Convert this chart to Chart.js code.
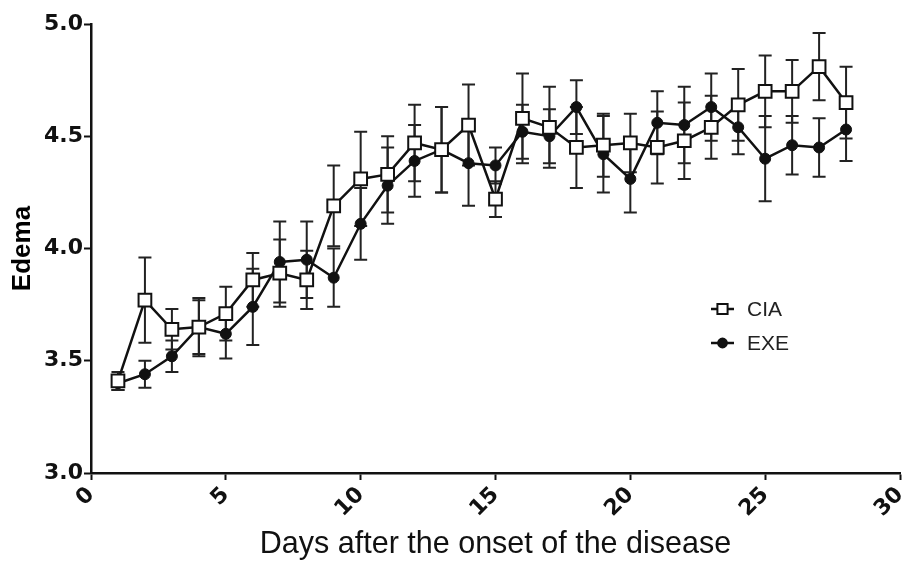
<!DOCTYPE html>
<html>
<head>
<meta charset="utf-8">
<script src="https://cdn.jsdelivr.net/npm/chart.js@4"></script>
<style>
  body { margin: 0; background: #fff; }
  canvas { display: block; }
</style>
</head>
<body>
<canvas id="edemaChart" width="904" height="563"></canvas>
<script>
// dados
const days = [1, 2, 3, 4, 5, 6, 7, 8, 9, 10, 11, 12, 13, 14, 15, 16, 17, 18, 19, 20, 21, 22, 23, 24, 25, 26, 27, 28];
const ciaMean = [3.41, 3.77, 3.64, 3.65, 3.71, 3.86, 3.89, 3.86, 4.19, 4.31, 4.33, 4.47, 4.44, 4.55, 4.22, 4.58, 4.54, 4.45, 4.46, 4.47, 4.45, 4.48, 4.54, 4.64, 4.70, 4.70, 4.81, 4.65];
const ciaErr = [0.04, 0.19, 0.09, 0.12, 0.12, 0.12, 0.15, 0.13, 0.18, 0.21, 0.17, 0.17, 0.19, 0.18, 0.08, 0.20, 0.18, 0.18, 0.14, 0.13, 0.16, 0.17, 0.14, 0.16, 0.16, 0.14, 0.15, 0.16];
const exeMean = [3.40, 3.44, 3.52, 3.65, 3.62, 3.74, 3.94, 3.95, 3.87, 4.11, 4.28, 4.39, 4.44, 4.38, 4.37, 4.52, 4.50, 4.63, 4.42, 4.31, 4.56, 4.55, 4.63, 4.54, 4.40, 4.46, 4.45, 4.53];
const exeErr = [0.03, 0.06, 0.07, 0.13, 0.11, 0.17, 0.18, 0.17, 0.13, 0.16, 0.17, 0.16, 0.19, 0.19, 0.08, 0.12, 0.12, 0.12, 0.17, 0.15, 0.14, 0.17, 0.15, 0.12, 0.19, 0.13, 0.13, 0.14];
const seriesLabels = ['CIA', 'EXE'];
const xTicks = [0, 5, 10, 15, 20, 25, 30];
const yTicks = [3.0, 3.5, 4.0, 4.5, 5.0];

const INK = '#111';
const tickFont = { family: "'DejaVu Sans', sans-serif", size: 22, weight: 'bold' };

// barras de erro desenhadas pelas escalas do próprio Chart.js
const errorBars = {
    id: 'errorBars',
    beforeDatasetsDraw(chart) {
        const { ctx, scales: { x, y } } = chart;
        const errs = [ciaErr, exeErr];
        ctx.save();
        ctx.strokeStyle = '#222';
        ctx.lineWidth = 2;
        chart.data.datasets.forEach((ds, i) => {
            ds.data.forEach((p, j) => {
                const px = x.getPixelForValue(p.x);
                const yt = y.getPixelForValue(p.y + errs[i][j]);
                const yb = y.getPixelForValue(p.y - errs[i][j]);
                ctx.beginPath();
                ctx.moveTo(px, yt); ctx.lineTo(px, yb);
                ctx.moveTo(px - 6.5, yt); ctx.lineTo(px + 6.5, yt);
                ctx.moveTo(px - 6.5, yb); ctx.lineTo(px + 6.5, yb);
                ctx.stroke();
            });
        });
        ctx.restore();
    }
};

// legenda dentro da área do gráfico
const insideLegend = {
    id: 'insideLegend',
    afterDraw(chart) {
        const { ctx } = chart;
        const rows = [309, 343];
        ctx.save();
        chart.data.datasets.forEach((ds, i) => {
            const y = rows[i];
            ctx.strokeStyle = INK; ctx.lineWidth = 2.5;
            ctx.beginPath(); ctx.moveTo(711, y); ctx.lineTo(734, y); ctx.stroke();
            ctx.fillStyle = ds.pointBackgroundColor; ctx.strokeStyle = INK; ctx.lineWidth = 2;
            Chart.helpers.drawPoint(ctx, { pointStyle: ds.pointStyle, radius: ds.pointRadius * 0.8, rotation: 0, borderWidth: 2 }, 722.5, y);
            ctx.fillStyle = '#222';
            ctx.font = "21px 'Liberation Sans', Arial, sans-serif";
            ctx.textAlign = 'left'; ctx.textBaseline = 'middle';
            ctx.fillText(ds.label, 747, y + 1);
        });
        ctx.restore();
    }
};

new Chart(document.getElementById('edemaChart').getContext('2d'), {
    type: 'line',
    data: {
        datasets: [
            { label: seriesLabels[0], data: days.map((d, i) => ({ x: d, y: ciaMean[i] })),
              borderColor: INK, borderWidth: 2.5, pointStyle: 'rect', pointRadius: 9,
              pointBackgroundColor: '#fff', pointBorderColor: INK, pointBorderWidth: 2, tension: 0, clip: false },
            { label: seriesLabels[1], data: days.map((d, i) => ({ x: d, y: exeMean[i] })),
              borderColor: INK, borderWidth: 2.5, pointStyle: 'circle', pointRadius: 5.5,
              pointBackgroundColor: INK, pointBorderColor: INK, pointBorderWidth: 1, tension: 0, clip: false }
        ]
    },
    options: {
        responsive: false,
        animation: false,
        layout: { autoPadding: false, padding: { top: 24, right: 4, left: 0, bottom: 0 } },
        plugins: { legend: { display: false }, tooltip: { enabled: false } },
        scales: {
            x: {
                type: 'linear', min: 0, max: 30,
                afterBuildTicks: s => { s.ticks = xTicks.map(v => ({ value: v })); },
                afterFit: s => { s.height = 90; s.paddingLeft = 0; s.paddingRight = 0; },
                ticks: { autoSkip: false, minRotation: 45, maxRotation: 45, padding: 2, color: '#111', font: tickFont },
                grid: { display: true, drawOnChartArea: false, tickLength: 7, tickWidth: 2, color: INK },
                border: { display: true, width: 2.5, color: INK },
                title: { display: true, text: 'Days after the onset of the disease', color: '#111',
                         font: { family: "'Liberation Sans', Arial, sans-serif", size: 30.5 }, padding: { top: 0, bottom: 0 } }
            },
            y: {
                min: 3.0, max: 5.0,
                afterBuildTicks: s => { s.ticks = yTicks.map(v => ({ value: v })); },
                afterFit: s => { s.width = 91; s.paddingTop = 0; s.paddingBottom = 0; },
                ticks: { padding: 1, color: '#111', font: tickFont, callback: v => v.toFixed(1) },
                grid: { display: true, drawOnChartArea: false, tickLength: 7, tickWidth: 2, color: INK },
                border: { display: true, width: 2.5, color: INK },
                title: { display: true, text: 'Edema', color: '#000',
                         font: { family: "'Liberation Sans', Arial, sans-serif", size: 26, weight: 'bold' }, padding: { top: 7, bottom: 0 } }
            }
        }
    },
    plugins: [errorBars, insideLegend]
});
</script>
</body>
</html>
